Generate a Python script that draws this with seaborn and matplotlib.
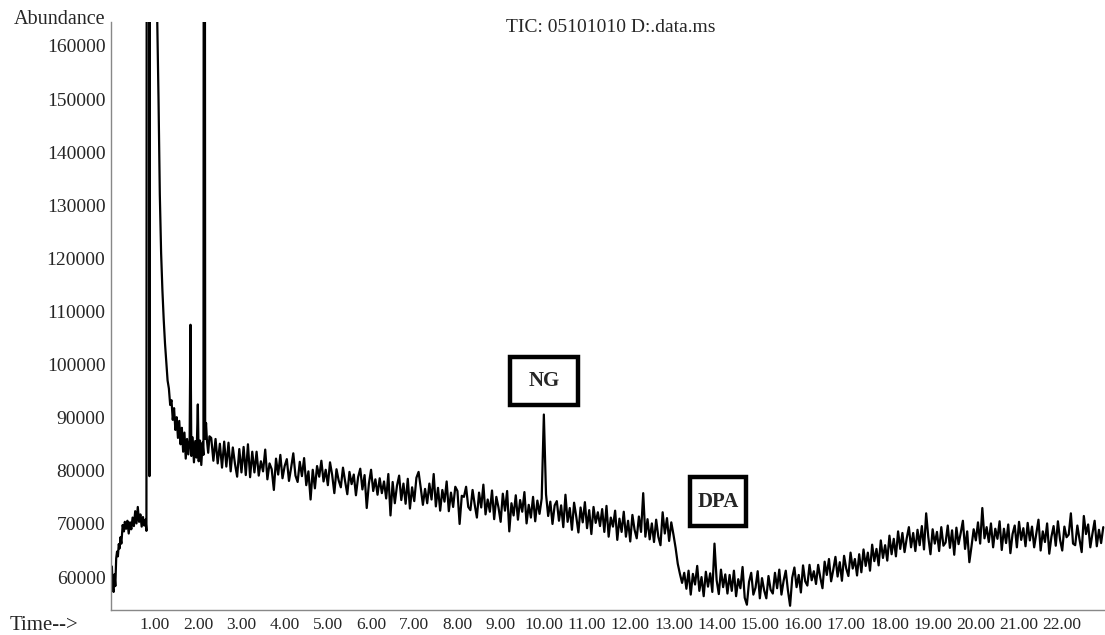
import numpy as np
import pandas as pd
import matplotlib
matplotlib.use("Agg")
import matplotlib.pyplot as plt
from matplotlib.patches import Rectangle
from matplotlib.ticker import FixedLocator, MultipleLocator
import seaborn as sns

# --- 데이터 (abundance 값은 천 단위로 적음) ---
# 0 ~ 2.3 min : 시작 구간 + 용매 피크 (250 = 스케일 밖으로 포화)
early_time = [0.00, 0.02, 0.04, 0.06, 0.08, 0.10, 0.12, 0.14, 0.16, 0.18,
              0.20, 0.22, 0.25, 0.28, 0.30, 0.33, 0.36, 0.39, 0.42, 0.45,
              0.48, 0.51, 0.54, 0.57, 0.60, 0.63, 0.66, 0.69, 0.72, 0.75,
              0.78, 0.80, 0.81, 0.86, 0.87, 0.88, 1.03, 1.05, 1.08, 1.11,
              1.14, 1.17, 1.20, 1.23, 1.26, 1.29, 1.32, 1.35, 1.38, 1.41,
              1.44, 1.47, 1.50, 1.53, 1.56, 1.59, 1.62, 1.65, 1.68, 1.71,
              1.74, 1.77, 1.80, 1.82, 1.84, 1.87, 1.90, 1.93, 1.96, 1.99,
              2.01, 2.04, 2.07, 2.10, 2.12, 2.13, 2.15, 2.16, 2.18, 2.20,
              2.23, 2.26]
early_abund_k = [62.0, 58.0, 57.2, 60.5, 58.3, 63.5, 64.8, 63.9, 66.2, 65.4,
                 67.5, 66.3, 69.8, 68.6, 70.4, 69.1, 70.6, 68.2, 70.3, 69.0,
                 71.2, 69.6, 72.4, 70.1, 73.2, 70.4, 71.8, 69.5, 71.3, 69.7,
                 70.8, 68.7, 250.0, 250.0, 79.0, 250.0, 250.0, 165.0, 150.0, 132.0,
                 121.0, 114.0, 108.5, 104.0, 100.5, 97.0, 95.5, 92.4, 93.3, 89.6,
                 91.8, 87.7, 90.1, 86.2, 89.4, 85.0, 88.1, 83.6, 87.2, 82.3,
                 86.0, 83.1, 85.8, 107.5, 82.8, 86.3, 81.6, 85.6, 82.5, 92.5,
                 81.8, 85.7, 81.1, 85.3, 83.0, 250.0, 250.0, 86.0, 89.0, 85.8,
                 83.4, 86.5]

# 2.30 min 부터 0.05 min 간격 스캔 (한 줄 = 1분)
scan_start = 2.30
scan_step = 0.05
scan_abund_k = [
    86.2, 81.9, 86.0, 81.4, 85.1, 80.6, 85.5, 80.8, 85.3, 79.9, 84.4, 81.3, 78.9, 84.1, 79.7, 84.5, 79.2, 85.0, 78.8, 83.6,  # 2.30
    79.7, 83.6, 79.1, 81.8, 79.9, 84.0, 78.4, 81.4, 80.3, 76.4, 82.3, 79.3, 83.0, 78.6, 80.9, 82.2, 78.1, 80.6, 83.3, 79.1,  # 3.30
    77.9, 81.7, 79.0, 82.4, 77.3, 79.9, 74.6, 80.2, 76.7, 80.9, 78.9, 81.9, 78.0, 80.2, 77.3, 81.6, 79.2, 75.8, 80.3, 78.2,  # 4.30
    76.9, 80.6, 78.0, 75.6, 79.8, 77.5, 79.3, 75.4, 78.8, 80.4, 76.5, 79.2, 73.0, 77.6, 80.2, 76.2, 78.4, 75.5, 78.6, 75.8,  # 5.30
    78.0, 74.8, 79.4, 71.6, 77.9, 73.9, 77.2, 79.1, 74.5, 77.6, 73.8, 78.5, 72.9, 76.9, 74.3, 78.7, 79.8, 76.8, 73.6, 76.6,  # 6.30
    73.9, 77.6, 74.6, 79.4, 73.3, 76.8, 72.5, 76.4, 74.2, 78.0, 72.4, 75.9, 73.2, 77.0, 76.2, 70.0, 75.3, 75.1, 77.0, 73.2,  # 7.30
    72.6, 76.4, 73.6, 71.2, 75.9, 73.1, 77.4, 71.8, 74.6, 72.3, 76.3, 70.9, 75.1, 73.1, 70.4, 75.7, 72.5, 76.2, 68.6, 73.9,  # 8.30
    71.6, 75.4, 70.8, 74.5, 72.3, 76.0, 70.1, 73.6, 71.2, 75.1, 70.5, 74.4, 71.9, 74.8, 90.6, 75.6, 71.5, 74.2, 70.0, 73.5,  # 9.30
    74.3, 70.6, 73.5, 69.4, 75.5, 70.4, 73.0, 68.9, 74.0, 71.4, 68.4, 73.1, 70.3, 74.1, 69.2, 72.6, 68.1, 73.2, 70.2, 72.2,  # 10.30
    69.6, 72.8, 68.5, 73.4, 67.6, 71.2, 69.5, 72.5, 67.0, 71.0, 68.5, 72.3, 67.6, 70.6, 66.7, 71.7, 68.9, 67.3, 71.4, 68.5,  # 11.30
    75.8, 67.6, 70.9, 67.1, 70.1, 66.6, 70.8, 67.6, 66.0, 72.2, 68.2, 71.1, 66.8, 70.3, 68.0, 65.5, 62.5, 60.6, 58.9, 60.8,  # 12.30
    57.8, 61.2, 56.7, 60.6, 58.6, 62.1, 57.4, 60.0, 56.4, 61.0, 58.2, 60.7, 57.2, 66.3, 59.4, 56.8, 61.4, 58.1, 60.5, 56.9,  # 13.30
    60.4, 57.4, 61.2, 56.4, 59.6, 57.9, 61.9, 56.1, 54.8, 59.1, 60.8, 56.7, 58.0, 61.1, 56.0, 59.8, 57.5, 56.0, 60.2, 57.6,  # 14.30
    56.9, 60.8, 57.9, 61.4, 56.7, 59.3, 61.2, 57.5, 54.6, 59.9, 61.8, 58.1, 60.4, 57.1, 62.2, 59.2, 58.4, 62.3, 59.4, 61.1,  # 15.30
    58.7, 62.3, 59.9, 57.9, 62.9, 60.4, 63.4, 59.2, 61.4, 63.8, 60.1, 62.8, 59.3, 64.0, 61.6, 60.2, 64.6, 61.6, 63.4, 60.3,  # 16.30
    64.3, 60.9, 65.2, 62.1, 64.6, 61.2, 66.1, 63.0, 65.3, 62.2, 66.9, 63.6, 66.0, 63.1, 67.8, 64.3, 67.2, 63.9, 68.6, 65.3,  # 17.30
    68.3, 64.7, 67.3, 69.4, 65.6, 68.3, 64.9, 68.9, 66.0, 69.6, 65.2, 72.0, 67.5, 64.3, 69.0, 66.3, 68.5, 64.9, 69.4, 65.9,  # 18.30
    66.5, 69.7, 65.5, 68.8, 64.2, 69.3, 66.2, 68.3, 70.6, 65.3, 68.6, 62.8, 65.8, 69.0, 66.9, 70.3, 66.3, 73.0, 67.3, 69.4,  # 19.30
    66.6, 70.1, 65.6, 69.1, 67.2, 70.5, 65.1, 69.1, 66.4, 69.9, 64.5, 68.1, 69.7, 65.6, 70.4, 67.0, 69.2, 65.8, 70.2, 66.9,  # 20.30
    69.5, 65.6, 68.2, 70.8, 65.0, 68.6, 66.6, 70.1, 64.4, 67.6, 69.6, 65.9, 70.5, 67.0, 65.0, 69.5, 67.5, 68.0, 72.0, 66.3,  # 21.30
    66.0, 69.7, 67.1, 64.7, 71.5, 68.1, 69.9, 65.6, 68.2, 70.6, 65.8, 68.9, 66.4, 69.4,                                      # 22.30
]

x_ticks = list(range(1, 23))
x_tick_labels = [f"{t}.00" for t in x_ticks]
y_ticks = list(range(60000, 160001, 10000))

title_text = "TIC: 05101010 D:.data.ms"
peak_labels = ["NG", "DPA"]

# --- 데이터프레임 구성 ---
scan_time = scan_start + scan_step * np.arange(len(scan_abund_k))
df = pd.DataFrame({
    "time": np.concatenate([early_time, scan_time]),
    "abundance": np.concatenate([early_abund_k, scan_abund_k]) * 1000,
})

# --- 그림 ---
sns.set_style("white")
plt.rcParams["font.family"] = ["Liberation Serif", "DejaVu Serif"]

fig = plt.figure(figsize=(11.05, 6.35), dpi=100)
ax = fig.add_axes([111 / 1105, 1 - 610 / 635, (1105 - 111) / 1105, (610 - 22) / 635])

sns.lineplot(data=df, x="time", y="abundance", color="black", lw=1.6,
             estimator=None, sort=False, ax=ax)

ax.set_xlim(-0.02, 22.99)
ax.set_ylim(53800, 164500)

ax.xaxis.set_major_locator(FixedLocator(x_ticks))
ax.set_xticklabels(x_tick_labels, fontsize=12.5)
ax.xaxis.set_minor_locator(MultipleLocator(0.2))
ax.yaxis.set_major_locator(FixedLocator(y_ticks))
ax.set_yticklabels([str(v) for v in y_ticks], fontsize=14)
ax.yaxis.set_minor_locator(MultipleLocator(2000))

ax.tick_params(axis="x", which="major", direction="out", length=4, width=0.8,
               color="#888888", pad=1)
ax.tick_params(axis="x", which="minor", direction="out", length=2.5, width=0.6,
               color="#999999")
ax.tick_params(axis="y", which="major", direction="out", length=3, width=0.8,
               color="#888888", pad=1)
ax.tick_params(axis="y", which="minor", direction="out", length=1.5, width=0.5,
               color="#aaaaaa")

for side in ["top", "right"]:
    ax.spines[side].set_visible(False)
for side in ["left", "bottom"]:
    ax.spines[side].set_color("#888888")
    ax.spines[side].set_linewidth(1.0)

ax.set_xlabel("")
ax.set_ylabel("")

# 피크 라벨 박스
boxes = [(9.21, 92400, 1.58, 9000, 10.0, 96900),
         (13.38, 69600, 1.30, 9200, 14.03, 74200)]
for label, (bx, by, bw, bh, tx, ty) in zip(peak_labels, boxes):
    ax.add_patch(Rectangle((bx, by), bw, bh, facecolor="white",
                           edgecolor="black", lw=3.2, zorder=5))
    ax.text(tx, ty, label, ha="center", va="center", fontsize=15,
            fontweight="bold", zorder=6)

fig.text(105 / 1105, 1 - 20 / 635, "Abundance", ha="right", va="center", fontsize=14.5)
fig.text(10 / 1105, 1 - 625 / 635, "Time-->", ha="left", va="center", fontsize=15)
fig.text(611 / 1105, 1 - 27 / 635, title_text, ha="center", va="center", fontsize=14)

fig.savefig("out.png", dpi=100)
